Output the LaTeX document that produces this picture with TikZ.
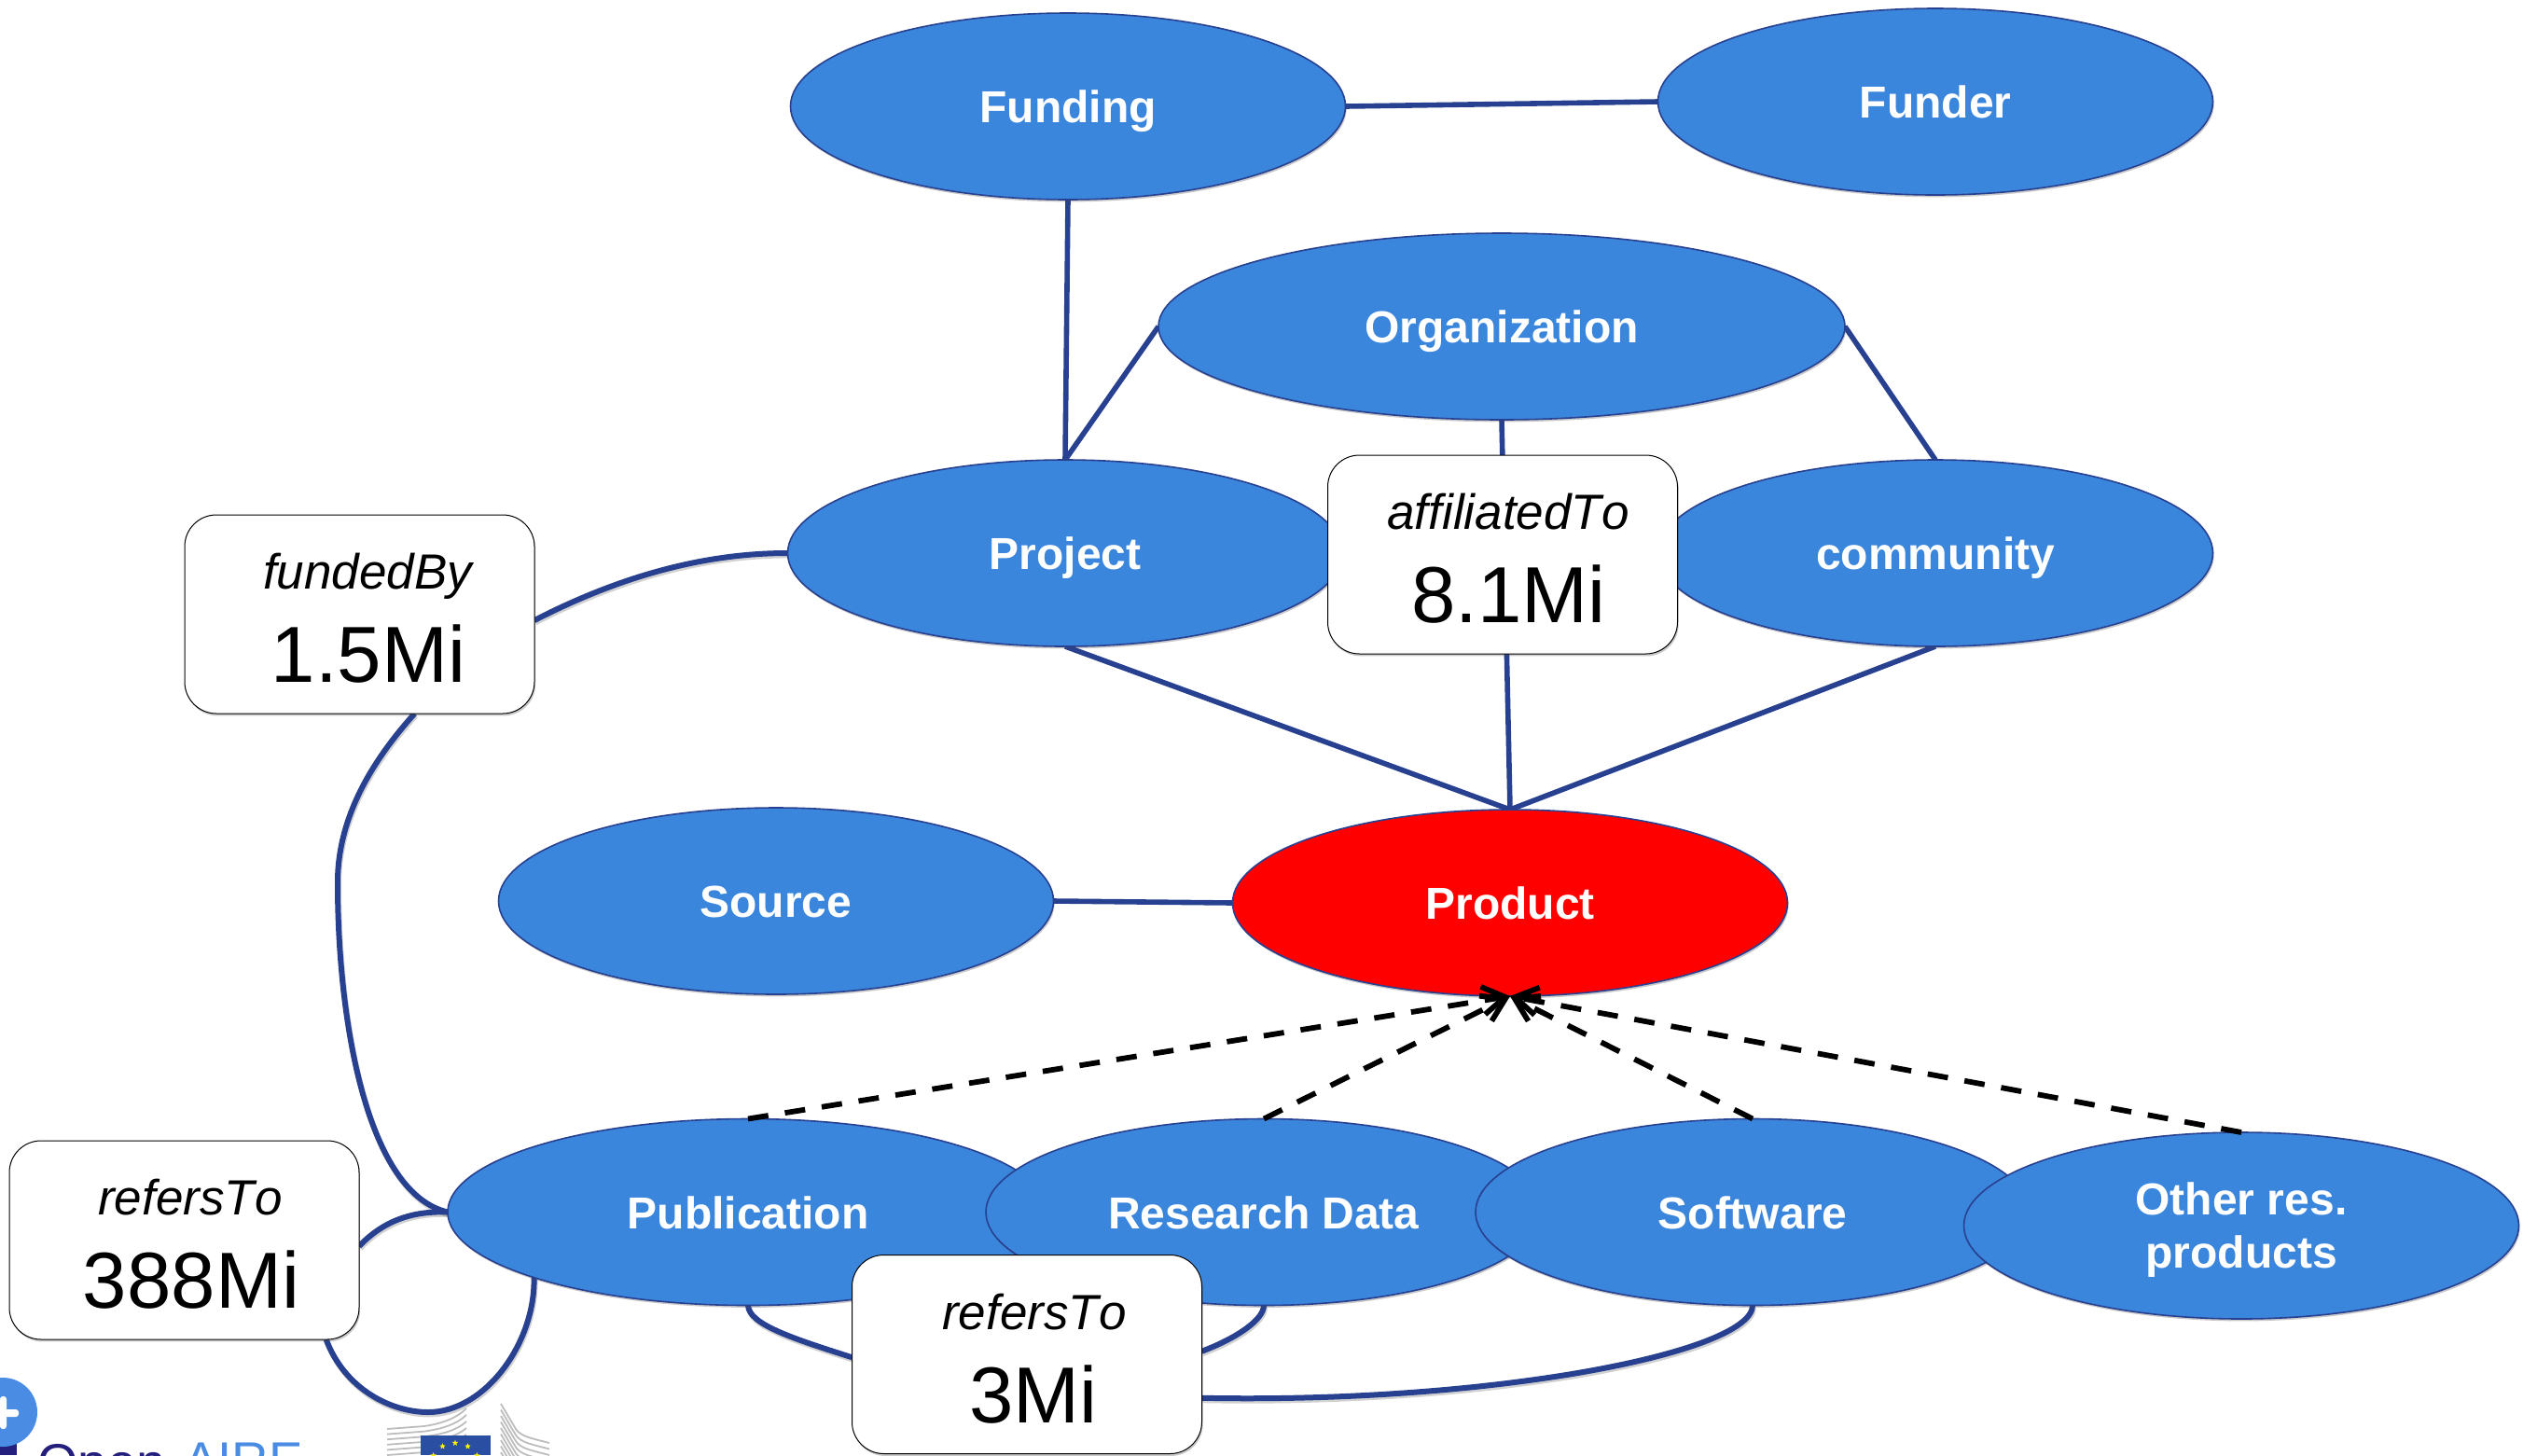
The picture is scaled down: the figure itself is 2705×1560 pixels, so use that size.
\documentclass[tikz,border=0pt]{standalone}
\usepackage{fontspec}
\setmainfont[Kerning=Off,Ligatures=NoCommon]{Liberation Sans}
\usetikzlibrary{shapes.geometric,shadows,backgrounds,arrows.meta,calc}
\definecolor{ellblue}{HTML}{3B86DD}
\definecolor{linkblue}{HTML}{27408F}
\definecolor{logoblue}{HTML}{4A8BE3}
\definecolor{logonavy}{HTML}{241F7D}
\definecolor{euflag}{HTML}{2A4EA2}
\definecolor{euwing}{HTML}{BDBDBD}
\tikzset{
  softshadow/.style={drop shadow={shadow xshift=0.6pt,shadow yshift=-1.2pt,opacity=.3,fill=black!70}},
  entity/.style={ellipse,draw=linkblue,line width=.8pt,fill=ellblue,text=white,inner sep=0pt,outer sep=0pt,
    minimum height=100pt,minimum width=297.5pt,align=center,softshadow,
    font=\fontsize{24}{28.5}\selectfont\bfseries,text height=17.5pt,text depth=0pt},
  entitytwo/.style={entity,text height=,text depth=},
  relbox/.style={rectangle,rounded corners=17pt,draw=black,line width=.5pt,fill=white,inner sep=0pt,outer sep=0pt,
    minimum width=187.5pt,minimum height=106.5pt,softshadow},
  relname/.style={anchor=base,inner sep=0pt,font=\fontsize{26.5}{30}\selectfont\itshape,text=black},
  relcount/.style={anchor=base,inner sep=0pt,font=\fontsize{42.6}{46}\selectfont,text=black},
  link/.style={draw=linkblue,line width=2.8pt,line join=round},
  curved/.style={link,line width=3pt,preaction={draw=black,opacity=.18,line width=3pt,transform canvas={xshift=.5pt,yshift=-1.2pt}}},
  isa/.style={draw=black,line width=2.9pt,dash pattern=on 11pt off 9pt,
    -{Straight Barb[length=12pt,width=15pt,line width=2.9pt]}},
  wing/.style={draw=euwing,line width=.9pt},
  eustar/.style={star,star points=5,star point ratio=2.3,fill=yellow,draw=none,inner sep=0pt,minimum size=3.4pt},
  logotext/.style={anchor=base west,inner sep=0pt,font=\fontsize{28}{30}\selectfont}
}
\begin{document}
\begin{tikzpicture}[x=0.5pt,y=-0.5pt]
\useasboundingbox (0,0) rectangle (2705,1560);
% entities
\node[entity] (funding) at (1145,114) {Funding};
\node[entity] (funder) at (2075,109) {Funder};
\node[entity,minimum width=368pt] (org) at (1610,350) {Organization};
\node[entity] (project) at (1142,593) {Project};
\node[entity] (community) at (2075,593) {community};
\node[entity] (source) at (832,966) {Source};
\node[entity,fill=red] (product) at (1619,968) {Product};
\node[entity,minimum width=322pt] (pub) at (802,1299.5) {Publication};
\node[entity,minimum width=298pt] (data) at (1355,1299.5) {Research Data};
\node[entity,minimum width=297pt] (soft) at (1879,1299.5) {Software};
\node[entitytwo] (other) at (2403,1314) {\rule{0pt}{22pt}Other res.\\products};
% relation boxes
\node[relbox] (affil) at (1611,594.5) {};
\node[relname] (affilname) at (1617,567) {affiliatedTo};
\node[relcount] (affilcount) at (1617.5,667) {8.1Mi};
\node[relbox] (funded) at (385.5,658.5) {};
\node[relname] (fundedname) at (394,631.5) {fundedBy};
\node[relcount] (fundedcount) at (395,731) {1.5Mi};
\node[relbox] (refA) at (197.5,1329.5) {};
\node[relname] (refAname) at (204,1302) {refersTo};
\node[relcount] (refAcount) at (205,1402) {388Mi};
\node[relbox] (refB) at (1101,1452) {};
\node[relname] (refBname) at (1109,1425) {refersTo};
\node[relcount] (refBcount) at (1108,1525) {3Mi};
% isa arrows
\draw[isa] (pub.north) -- (product.south);
\draw[isa] (data.north) -- (product.south);
\draw[isa] (soft.north) -- (product.south);
\draw[isa] (other.north) -- (product.south);
% connectors behind the nodes
\begin{scope}[on background layer]
\draw[link] (funding.east) -- (funder.west);
\draw[link] (funding.south) -- (project.north);
\draw[link] (org.west) -- (project.north);
\draw[link] (org.east) -- (community.north);
\draw[link] (org.south) -- (product.north);
\draw[link] (project.south) -- (product.north);
\draw[link] (community.south) -- (product.north);
\draw[link] (source.east) -- (product.west);
\draw[curved] (funded.-2) .. controls (680,610) and (770,593) .. (project.west);
\draw[curved] (funded.-61) .. controls (395,820) and (362,880) .. (362,946)
   .. controls (362,1100) and (395,1280) .. (pub.west);
\draw[curved] (refA.-2) .. controls (410,1310) and (440,1298) .. (pub.west);
\draw[curved] (refA.-35) .. controls (370,1490) and (420,1514) .. (459,1514)
   .. controls (520,1514) and (574,1440) .. (pub.197);
\draw[curved] (pub.south) .. controls (803,1420) and (850,1435) .. (refB.181.5);
\draw[curved] (data.south) .. controls (1355,1415) and (1325,1435) .. (refB.1);
\draw[curved] (soft.south) .. controls (1879,1450) and (1600,1505) .. (refB.-14);
\end{scope}
% logos, cut off by the lower edge
\begin{scope}
\clip (0,0) rectangle (2705,1560);
\fill[logonavy] (0,1545) rectangle (18,1560);
\fill[logoblue] (3,1514) circle[radius=18.5pt];
\fill[white,rounded corners=1.5pt] (0,1497) rectangle (7,1532);
\fill[white,rounded corners=1.5pt] (0,1511) rectangle (20,1519);
\node[logotext,text=logonavy] (logoopen) at (40,1587) {Open};
\node[logotext,text=logoblue,font=\fontsize{27.3}{30}\selectfont] (logoaire) at (197,1584) {AIRE};
\foreach \k in {0,...,5}{
  \draw[wing] (415,1532+5.6*\k) -- (455,1529+5.6*\k) .. controls (475,1526+5.8*\k) and (490,1520+6.6*\k) .. (500,1510+7*\k);
}
\foreach \k in {0,...,8}{
  \draw[wing] (537,1505+6.5*\k) -- (553,1532+6.5*\k) .. controls (558,1540+6.5*\k) and (570,1542+6.5*\k) .. (589,1547+6.5*\k);
}
\fill[euflag] (451,1539) rectangle (526,1560);
\foreach \n/\a in {1/90,2/120,3/60,4/150,5/30}{
  \node[eustar] (star\n) at ($(488,1574)+(\a:13.5pt)$) {};
}
\end{scope}
\end{tikzpicture}
\end{document}
